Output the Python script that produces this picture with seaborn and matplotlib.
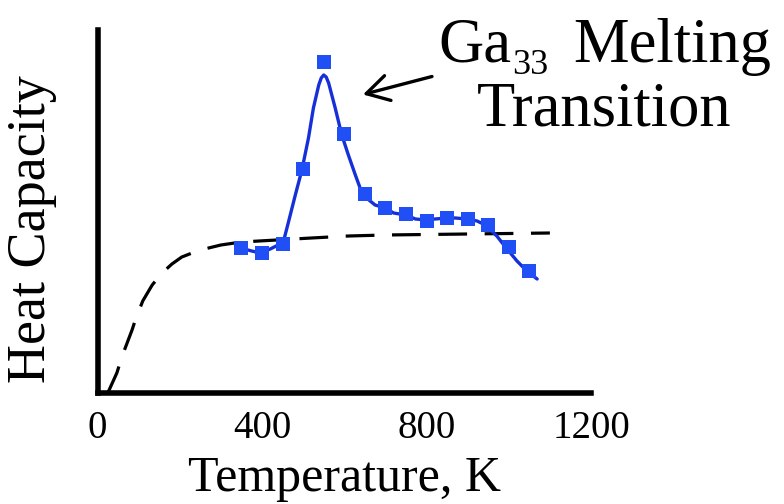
import matplotlib
matplotlib.use("Agg")
import matplotlib.pyplot as plt
import seaborn as sns
import pandas as pd

# ---- data ----
T_pts = [350, 400, 450, 500, 550, 600, 650, 700, 750, 800, 850, 900, 950, 1000, 1050]
C_pts = [1.45, 1.40, 1.49, 2.24, 3.31, 2.59, 1.99, 1.85, 1.79, 1.72, 1.75, 1.74, 1.68, 1.46, 1.22]

fit_T = [347, 375, 396, 420, 449, 455, 465, 481, 497, 513, 525, 538, 544, 550, 556, 562,
         578, 594, 610, 627, 643, 660, 675, 700, 720, 750, 773, 800, 821, 850, 870, 900,
         923, 943, 971, 992, 1020, 1044, 1069]
fit_C = [1.45, 1.42, 1.40, 1.44, 1.50, 1.56, 1.72, 1.98, 2.23, 2.55, 2.85, 3.08, 3.15, 3.18,
         3.16, 3.10, 2.85, 2.58, 2.38, 2.18, 2.00, 1.93, 1.88, 1.85, 1.80, 1.78, 1.74, 1.73,
         1.74, 1.75, 1.75, 1.74, 1.72, 1.68, 1.57, 1.46, 1.32, 1.22, 1.14]

ref_T = [25, 47, 60, 84, 92, 110, 133, 157, 181, 205, 230, 260, 300, 350, 436, 520, 610,
         700, 800, 900, 1000, 1100]
ref_C = [0.0, 0.20, 0.37, 0.63, 0.73, 0.92, 1.08, 1.20, 1.29, 1.36, 1.40, 1.44, 1.48, 1.51,
         1.53, 1.55, 1.57, 1.58, 1.585, 1.59, 1.595, 1.60]

x_ticks = [0, 400, 800, 1200]

sns.set_style("white")
plt.rcParams['font.family'] = ['Liberation Serif', 'DejaVu Serif']
plt.rcParams['text.color'] = 'black'
plt.rcParams['axes.labelcolor'] = 'black'
plt.rcParams['xtick.color'] = 'black'
plt.rcParams['ytick.color'] = 'black'

W, H = 784, 504
fig = plt.figure(figsize=(W / 100, H / 100), dpi=100)
ax = fig.add_axes([97.5 / W, 1 - 393 / H, (591 - 97.5) / W, (393 - 30) / H])

df_pts = pd.DataFrame({"T": T_pts, "C": C_pts})
df_fit = pd.DataFrame({"T": fit_T, "C": fit_C})
df_ref = pd.DataFrame({"T": ref_T, "C": ref_C})

sns.lineplot(data=df_ref, x="T", y="C", ax=ax, color="black", lw=2.3,
             linestyle=(0, (9, 5.5)), sort=False, zorder=2)
sns.lineplot(data=df_fit, x="T", y="C", ax=ax, color="#1530d8", lw=2.4, sort=False, zorder=3)
sns.scatterplot(data=df_pts, x="T", y="C", ax=ax, color="#2050f5", marker="s", s=95,
                linewidth=0, zorder=4)

ax.set_xlim(0, 1200)
ax.set_ylim(0, 3.63)
ax.set_xticks(x_ticks)
ax.set_xticklabels([str(t) for t in x_ticks])
ax.set_yticks([])

for side in ["top", "right"]:
    ax.spines[side].set_visible(False)
for side in ["left", "bottom"]:
    ax.spines[side].set_linewidth(4.0)
    ax.spines[side].set_color("black")
    ax.spines[side].set_capstyle("projecting")

ax.tick_params(axis="x", direction="in", length=16.5, width=2.5, color="black",
               labelsize=28, pad=12, labelcolor="black")

ax.set_xlabel("Temperature, K", fontsize=36)
ax.xaxis.label.set_va("baseline")
ax.xaxis.set_label_coords(0.5, (393 - 491) / (393 - 30))

ax.set_ylabel("Heat Capacity", fontsize=39)
ax.yaxis.label.set_va("center")
ax.yaxis.set_label_coords((32 - 97.5) / (591 - 97.5), (393 - 229) / (393 - 30))

# annotation text
fig.text(438 / W, 1 - 62 / H, "Ga", fontsize=45, ha="left", va="baseline")
fig.text(512 / W, 1 - 73.5 / H, "33", fontsize=26, ha="left", va="baseline")
fig.text(573 / W, 1 - 62 / H, "Melting", fontsize=45, ha="left", va="baseline")
fig.text(604 / W, 1 - 125 / H, "Transition", fontsize=45, ha="center", va="baseline")

ax.annotate("", xy=(363, H - 94.5), xycoords="figure pixels",
            xytext=(432, H - 76.5), textcoords="figure pixels",
            arrowprops=dict(arrowstyle="->,head_length=0.4,head_width=0.23",
                            mutation_scale=40, lw=2.4, color="black",
                            shrinkA=0, shrinkB=0))

fig.savefig("out.png", dpi=100)
